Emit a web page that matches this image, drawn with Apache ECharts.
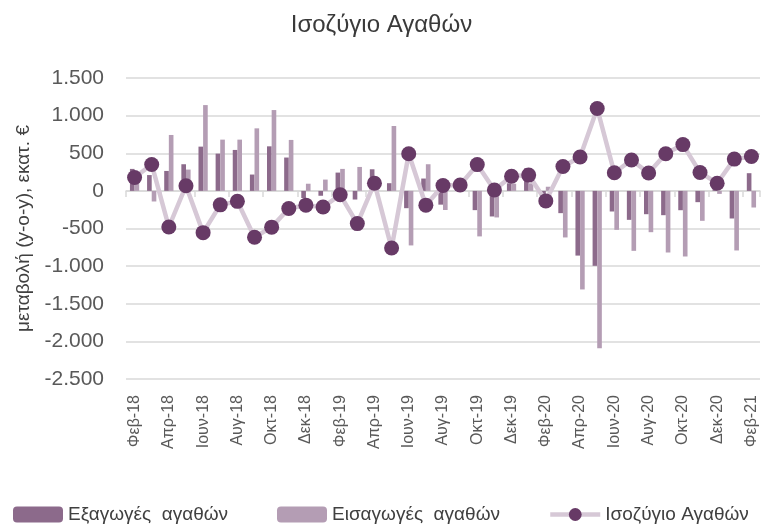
<!DOCTYPE html>
<html>
<head>
<meta charset="utf-8">
<script src="https://cdn.jsdelivr.net/npm/echarts@6/dist/echarts.min.js"></script>
<style>
  html, body { margin: 0; padding: 0; background: #ffffff; }
  #chart { width: 763px; height: 527px; }
</style>
</head>
<body>
<div id="chart"></div>
<script>
const categories = [
  'Φεβ-18','Μαρ-18','Απρ-18','Μαϊ-18','Ιουν-18','Ιουλ-18','Αυγ-18','Σεπ-18','Οκτ-18','Νοε-18','Δεκ-18',
  'Ιαν-19','Φεβ-19','Μαρ-19','Απρ-19','Μαϊ-19','Ιουν-19','Ιουλ-19','Αυγ-19','Σεπ-19','Οκτ-19','Νοε-19','Δεκ-19',
  'Ιαν-20','Φεβ-20','Μαρ-20','Απρ-20','Μαϊ-20','Ιουν-20','Ιουλ-20','Αυγ-20','Σεπ-20','Οκτ-20','Νοε-20','Δεκ-20',
  'Ιαν-21','Φεβ-21'
];
const exportsData = [292, 210, 265, 354, 588, 495, 544, 217, 592, 443,
  -95, -65, 243, -115, 287, 102, -230, 164, -183, 100,
  -256, -340, 100, 300, -80, -296, -860, -996, -274, -385,
  -310, -323, -257, -150, 60, -367, 235];
const importsData = [115, -141, 743, 283, 1140, 681, 681, 831, 1074, 677,
  95, 150, 292, 318, 185, 862, -725, 354, -254, 25,
  -605, -353, 95, 100, 55, -619, -1310, -2093, -518, -797,
  -549, -819, -872, -398, -40, -792, -221];
const balanceData = [177, 351, -480, 68, -555, -186, -139, -616, -482, -234,
  -190, -215, -52, -435, 102, -760, 493, -190, 72, 78,
  349, 12, 195, 210, -133, 323, 450, 1095, 240, 410,
  237, 493, 615, 245, 102, 422, 456];

const seriesNames = ['Εξαγωγές  αγαθών', 'Εισαγωγές  αγαθών', 'Ισοζύγιο Αγαθών'];
const titleText = 'Ισοζύγιο Αγαθών';
const yAxisTitle = 'μεταβολή (y-o-y), εκατ. €';

const regular = "'Liberation Sans', Arial, sans-serif";

function fmt(v) {
  const s = Math.abs(v).toString().replace(/\B(?=(\d{3})+(?!\d))/g, '.');
  return (v < 0 ? '-' : '') + s;
}

const legendText = { fontFamily: regular, fontSize: 19, color: '#404040' };

const chart = echarts.init(document.getElementById('chart'), null, { renderer: 'canvas' });
chart.setOption({
  animation: false,
  backgroundColor: '#ffffff',
  title: {
    text: titleText,
    left: 'center',
    top: 8,
    textStyle: { fontFamily: regular, fontSize: 24, fontWeight: 'normal', color: '#3a3a3a' }
  },
  legend: [
    { left: 13, top: 505, padding: 0, itemWidth: 50, itemHeight: 16, itemGap: 0, data: [seriesNames[0]], textStyle: legendText },
    { left: 277, top: 505, padding: 0, itemWidth: 50, itemHeight: 16, itemGap: 0, data: [seriesNames[1]], textStyle: legendText },
    { left: 548, top: 505, padding: 0, itemWidth: 50, itemHeight: 16, itemGap: 0, data: [seriesNames[2]], textStyle: legendText,
      lineStyle: { width: 4.5, color: '#d6c8d6' }, itemStyle: { color: '#673a66' } }
  ],
  grid: { left: 126, right: 3, top: 78, bottom: 148, containLabel: false },
  xAxis: [
    {
      type: 'category',
      data: categories,
      position: 'bottom',
      axisLine: { show: false, onZero: false },
      axisTick: { show: false },
      axisLabel: { interval: 1, rotate: 90, margin: 16, fontFamily: regular, fontSize: 16, color: '#595959' },
      splitLine: { show: false }
    },
    {
      type: 'category',
      data: categories,
      position: 'top',
      axisLine: { show: true, onZero: true, lineStyle: { color: '#d9d9d9', width: 1.5 } },
      axisTick: { show: true, interval: 1, inside: true, length: 6, lineStyle: { color: '#d9d9d9', width: 1.5 } },
      axisLabel: { show: false },
      splitLine: { show: false }
    }
  ],
  yAxis: {
    type: 'value',
    min: -2500,
    max: 1500,
    interval: 500,
    name: yAxisTitle,
    nameLocation: 'middle',
    nameRotate: 90,
    nameGap: 88,
    nameTextStyle: { fontFamily: regular, fontSize: 19, color: '#404040' },
    axisLine: { show: false },
    axisTick: { show: false },
    axisLabel: { margin: 22, fontFamily: regular, fontSize: 21, color: '#595959', formatter: fmt },
    splitLine: { lineStyle: { color: '#d9d9d9', width: 1.5 } }
  },
  series: [
    {
      name: seriesNames[0], type: 'bar', xAxisIndex: 0, data: exportsData,
      barWidth: '27%', barGap: '0%',
      itemStyle: { color: '#8c6a8b' }
    },
    {
      name: seriesNames[1], type: 'bar', xAxisIndex: 0, data: importsData,
      barWidth: '27%', barGap: '0%',
      itemStyle: { color: '#b49db4' }
    },
    {
      name: seriesNames[2], type: 'line', xAxisIndex: 0, data: balanceData,
      symbol: 'circle', symbolSize: 15, showAllSymbol: true, z: 5,
      lineStyle: { color: '#d6c8d6', width: 4.5 },
      itemStyle: { color: '#673a66' }
    }
  ]
});
</script>
</body>
</html>
